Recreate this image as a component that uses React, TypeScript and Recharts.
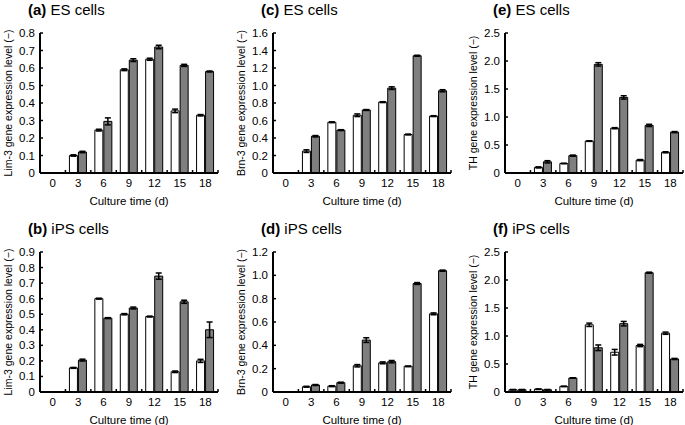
import { BarChart, Bar, XAxis, YAxis, ErrorBar } from 'recharts';

const days = ['0', '3', '6', '9', '12', '15', '18'];

// (a) Lim-3, ES cells
const limEsWhite = [0, 0.1, 0.245, 0.59, 0.65, 0.355, 0.33];
const limEsGrey = [0, 0.12, 0.295, 0.645, 0.72, 0.615, 0.58];
const limEsWhiteErr = [0, 0.004, 0.005, 0.005, 0.006, 0.01, 0.004];
const limEsGreyErr = [0, 0.004, 0.02, 0.008, 0.01, 0.006, 0.003];
const limEsTicks = [0, 0.1, 0.2, 0.3, 0.4, 0.5, 0.6, 0.7, 0.8];

// (b) Lim-3, iPS cells
const limIpsWhite = [0, 0.155, 0.6, 0.5, 0.485, 0.13, 0.2];
const limIpsGrey = [0, 0.205, 0.475, 0.54, 0.745, 0.58, 0.4];
const limIpsWhiteErr = [0, 0.003, 0.003, 0.004, 0.003, 0.005, 0.01];
const limIpsGreyErr = [0, 0.006, 0.003, 0.006, 0.02, 0.01, 0.05];
const limIpsTicks = [0, 0.1, 0.2, 0.3, 0.4, 0.5, 0.6, 0.7, 0.8, 0.9];

// (c) Brn-3, ES cells
const brnEsWhite = [0, 0.25, 0.58, 0.66, 0.81, 0.44, 0.65];
const brnEsGrey = [0, 0.42, 0.49, 0.72, 0.97, 1.34, 0.94];
const brnEsWhiteErr = [0, 0.015, 0.005, 0.015, 0.005, 0.005, 0.005];
const brnEsGreyErr = [0, 0.008, 0.005, 0.005, 0.015, 0.006, 0.012];
const brnEsTicks = [0, 0.2, 0.4, 0.6, 0.8, 1.0, 1.2, 1.4, 1.6];

// (d) Brn-3, iPS cells
const brnIpsWhite = [0, 0.045, 0.05, 0.225, 0.25, 0.22, 0.67];
const brnIpsGrey = [0, 0.06, 0.08, 0.445, 0.26, 0.93, 1.04];
const brnIpsWhiteErr = [0, 0.004, 0.004, 0.01, 0.008, 0.003, 0.008];
const brnIpsGreyErr = [0, 0.004, 0.004, 0.02, 0.01, 0.008, 0.005];
const brnIpsTicks = [0, 0.2, 0.4, 0.6, 0.8, 1.0, 1.2];

// (e) TH, ES cells
const thEsWhite = [0, 0.1, 0.17, 0.57, 0.8, 0.23, 0.37];
const thEsGrey = [0, 0.2, 0.31, 1.94, 1.35, 0.85, 0.73];
const thEsWhiteErr = [0, 0.01, 0.005, 0.005, 0.01, 0.01, 0.01];
const thEsGreyErr = [0, 0.02, 0.01, 0.03, 0.03, 0.02, 0.01];
const thEsTicks = [0, 0.5, 1.0, 1.5, 2.0, 2.5];

// (f) TH, iPS cells
const thIpsWhite = [0.04, 0.05, 0.1, 1.2, 0.71, 0.83, 1.05];
const thIpsGrey = [0.04, 0.04, 0.25, 0.79, 1.22, 2.13, 0.59];
const thIpsWhiteErr = [0.005, 0.005, 0.005, 0.03, 0.05, 0.02, 0.02];
const thIpsGreyErr = [0.005, 0.005, 0.005, 0.05, 0.04, 0.01, 0.01];
const thIpsTicks = [0, 0.5, 1.0, 1.5, 2.0, 2.5];

const FONT = '"Liberation Sans", Arial, sans-serif';
const AXIS_W = 40;
const PLOT_W = 178;
const PLOT_TOP = 33;
const PLOT_H = 140;
const XAXIS_H = 36;
const CHART_W = AXIS_W + PLOT_W + 4;
const CHART_H = PLOT_TOP + PLOT_H + XAXIS_H + 6;
const colLeft = [0, 233, 465];
const rowTop = [0, 219];

const panels = [
    { tag: '(a)', cells: 'ES cells', gene: 'Lim-3', col: 0, row: 0, ticks: limEsTicks, white: limEsWhite, grey: limEsGrey, we: limEsWhiteErr, ge: limEsGreyErr },
    { tag: '(b)', cells: 'iPS cells', gene: 'Lim-3', col: 0, row: 1, ticks: limIpsTicks, white: limIpsWhite, grey: limIpsGrey, we: limIpsWhiteErr, ge: limIpsGreyErr },
    { tag: '(c)', cells: 'ES cells', gene: 'Brn-3', col: 1, row: 0, ticks: brnEsTicks, white: brnEsWhite, grey: brnEsGrey, we: brnEsWhiteErr, ge: brnEsGreyErr },
    { tag: '(d)', cells: 'iPS cells', gene: 'Brn-3', col: 1, row: 1, ticks: brnIpsTicks, white: brnIpsWhite, grey: brnIpsGrey, we: brnIpsWhiteErr, ge: brnIpsGreyErr },
    { tag: '(e)', cells: 'ES cells', gene: 'TH', col: 2, row: 0, ticks: thEsTicks, white: thEsWhite, grey: thEsGrey, we: thEsWhiteErr, ge: thEsGreyErr },
    { tag: '(f)', cells: 'iPS cells', gene: 'TH', col: 2, row: 1, ticks: thIpsTicks, white: thIpsWhite, grey: thIpsGrey, we: thIpsWhiteErr, ge: thIpsGreyErr },
];

const YTick = (props: any) => {
    const { y, payload } = props;
    const v = payload.value;
    return (
        <g>
            <line x1={AXIS_W} x2={AXIS_W + 3} y1={y} y2={y} stroke="#000" strokeWidth={1.5} />
            <text x={AXIS_W - 5} y={y} dy={4} textAnchor="end" fontSize={11.5} fill="#000" fontFamily={FONT}>
                {v === 0 ? '0' : v.toFixed(1)}
            </text>
        </g>
    );
};

const XTick = (props: any) => {
    const { x, payload, index } = props;
    const bw = PLOT_W / days.length;
    const base = PLOT_TOP + PLOT_H;
    return (
        <g>
            <line x1={x - bw / 2} x2={x - bw / 2} y1={base} y2={base - 3} stroke="#000" strokeWidth={1.5} />
            {index === days.length - 1 && (
                <line x1={x + bw / 2} x2={x + bw / 2} y1={base} y2={base - 3} stroke="#000" strokeWidth={1.5} />
            )}
            <text x={x} y={base + 14} textAnchor="middle" fontSize={11.5} fill="#000" fontFamily={FONT}>
                {payload.value}
            </text>
        </g>
    );
};

const Panel = ({ p }: { p: any }) => {
    const data = days.map((d, i) => ({
        day: d,
        white: p.white[i],
        grey: p.grey[i],
        we: p.we[i],
        ge: p.ge[i],
    }));
    const max = p.ticks[p.ticks.length - 1];
    const left = colLeft[p.col];
    const top = rowTop[p.row];
    return (
        <div style={{ position: 'absolute', left, top, width: CHART_W, height: CHART_H }}>
            <div style={{ position: 'absolute', left: AXIS_W - 12, top: 1, fontSize: 15, fontFamily: FONT, whiteSpace: 'nowrap' }}>
                <b>{p.tag}</b> {p.cells}
            </div>
            <div
                style={{
                    position: 'absolute',
                    left: AXIS_W - 32,
                    top: PLOT_TOP + PLOT_H / 2,
                    transform: 'translate(-50%, -50%) rotate(-90deg)',
                    fontSize: 10.5,
                    fontFamily: FONT,
                    whiteSpace: 'nowrap',
                }}
            >
                {p.gene} gene expression level (−)
            </div>
            <div style={{ position: 'absolute', left: 0, top: 0 }}>
                <BarChart
                    width={CHART_W}
                    height={CHART_H}
                    data={data}
                    margin={{ top: PLOT_TOP, right: 4, bottom: 6, left: 0 }}
                    barGap={1}
                    barSize={8}
                >
                    <XAxis
                        dataKey="day"
                        height={XAXIS_H}
                        tickLine={false}
                        axisLine={{ stroke: '#000', strokeWidth: 2 }}
                        tick={<XTick />}
                        interval={0}
                        label={{ value: 'Culture time (d)', position: 'insideBottom', offset: 4, fontSize: 11.5, fill: '#000', fontFamily: FONT }}
                    />
                    <YAxis
                        width={AXIS_W}
                        domain={[0, max]}
                        ticks={p.ticks}
                        interval={0}
                        tickLine={false}
                        axisLine={{ stroke: '#000', strokeWidth: 2 }}
                        tick={<YTick />}
                    />
                    <Bar dataKey="white" fill="#ffffff" stroke="#000" strokeWidth={1} isAnimationActive={false}>
                        <ErrorBar dataKey="we" width={3} stroke="#000" strokeWidth={1.5} isAnimationActive={false} />
                    </Bar>
                    <Bar dataKey="grey" fill="#7f7f7f" stroke="#000" strokeWidth={1} isAnimationActive={false}>
                        <ErrorBar dataKey="ge" width={3} stroke="#000" strokeWidth={1.5} isAnimationActive={false} />
                    </Bar>
                </BarChart>
            </div>
        </div>
    );
};

export default function App() {
    return (
        <div style={{ position: 'absolute', left: 0, top: 0, width: 685, height: 425, background: '#fff' }}>
            {panels.map((p) => (
                <Panel key={p.tag} p={p} />
            ))}
        </div>
    );
}
